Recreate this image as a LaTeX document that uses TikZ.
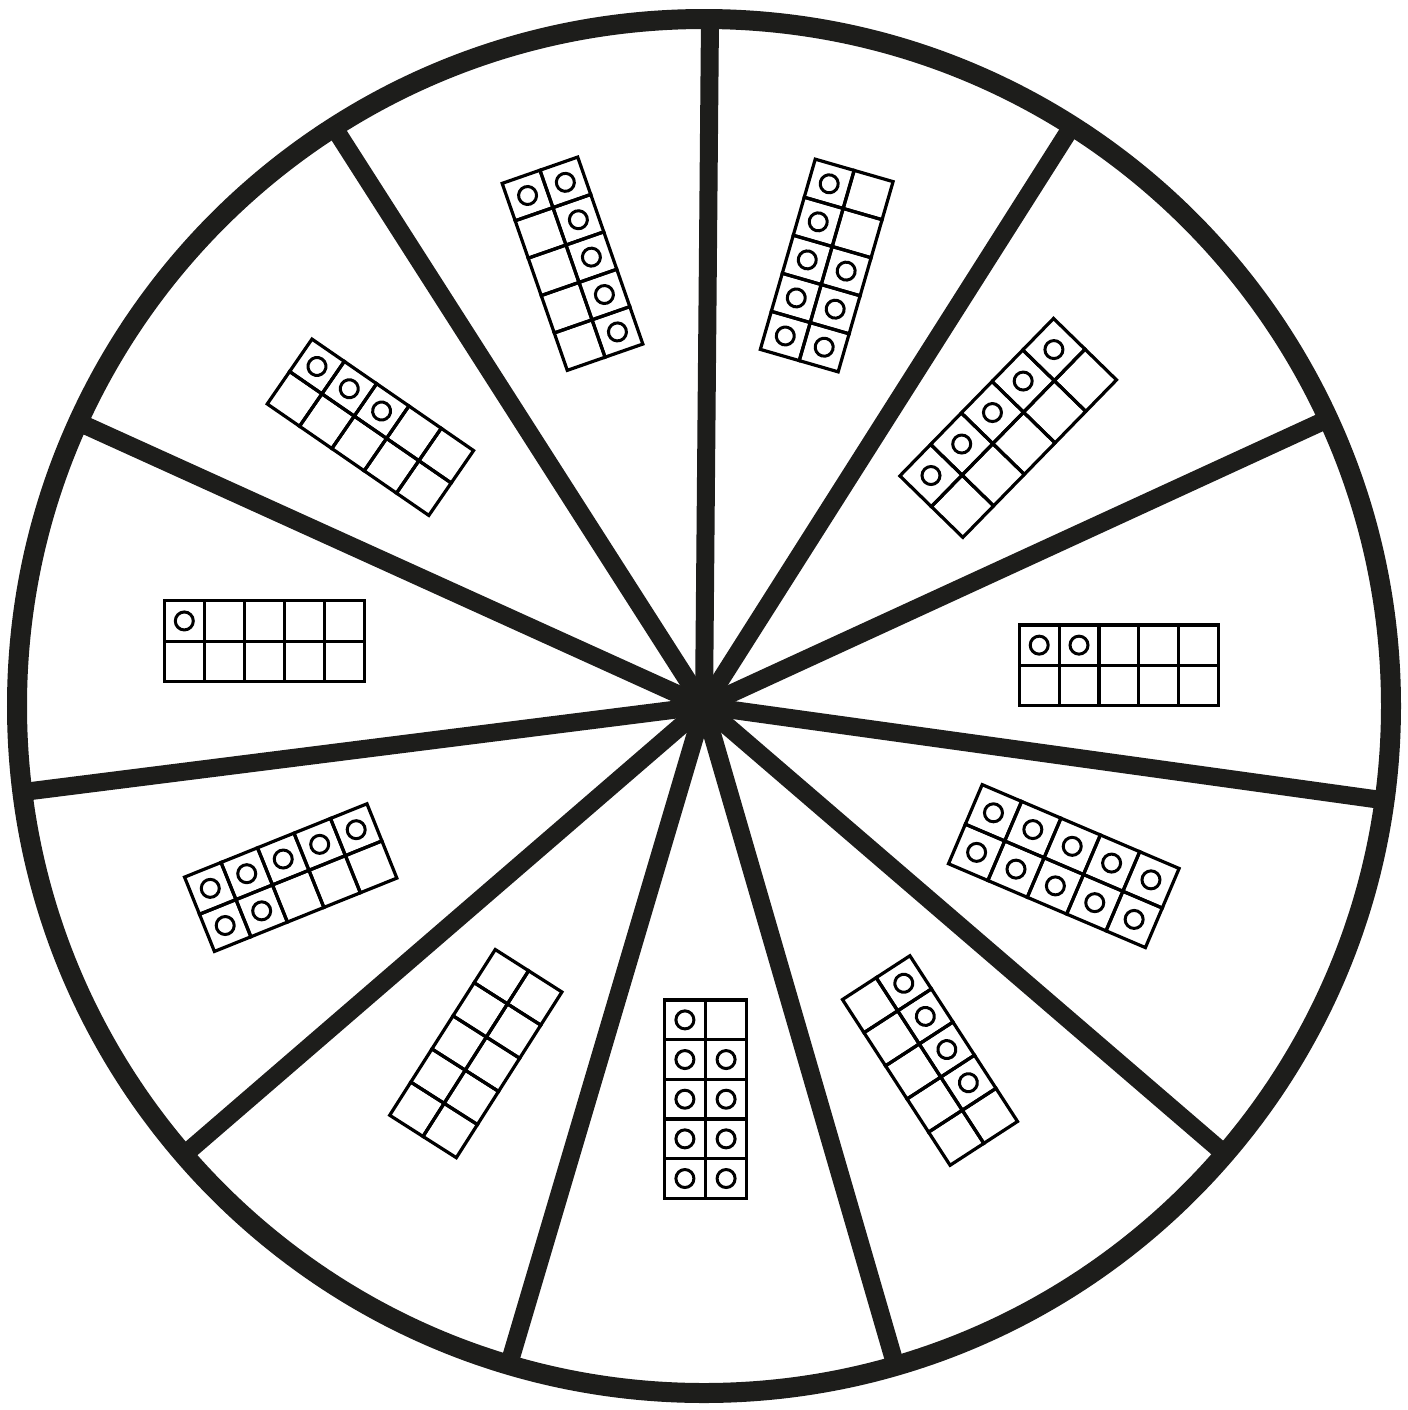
\documentclass[tikz,border=0pt]{standalone}
\definecolor{ink}{HTML}{1D1D1B}
\tikzset{
  ring/.style={draw=ink, line width=10pt},
  spoke/.style={draw=ink, line width=9pt},
  cell/.style={draw=black, line width=1.6pt, line join=miter},
  dot/.style={draw=black, line width=1.5pt},
}
\newcommand{\tenframe}[6]{%
  \begin{scope}[shift={(#1,#2)}, rotate=#3]
    \fill[white] (-#4/2,-#5/2) rectangle (#4/2,#5/2);
    \foreach \j in {0,1}{\foreach \i in {0,...,4}{
      \pgfmathsetmacro\xa{-#4/2+\i*#4/5}
      \pgfmathsetmacro\ya{-#5/2+\j*#5/2}
      \draw[cell] (\xa,\ya) rectangle ++(#4/5,#5/2);
      \pgfmathtruncatemacro\idx{\j*5+\i}
      \ifnum\idx<#6 \draw[dot] (\xa+#4/10,\ya+#5/4) circle[radius=4.5pt];\fi
    }}
  \end{scope}}
\begin{document}
\begin{tikzpicture}[x=0.5pt,y=-0.5pt]
  \useasboundingbox (0,0) rectangle (1408,1410);
  \coordinate (hub) at (704,706);
  \foreach \a in {89.5,57.6,24.7,-7.9,-40.7,-73.8,-106.5,-139.2,187.2,155.6,122.6}{
    \draw[spoke] (hub) -- ++({687*cos(\a)},{-687*sin(\a)});
  }
  \draw[ring] (hub) circle[radius=343.5pt];
  % ten frames: cx, cy, angle, long, short, count
  \tenframe{572.5}{263.7}{-70.8}{198}{80}{6}
  \tenframe{826.7}{265.5}{73.9}{198}{81}{8}
  \tenframe{1008.2}{427.9}{45.7}{220}{88}{5}
  \tenframe{1118.8}{665.3}{0}{199}{80.7}{2}
  \tenframe{1063.8}{866.1}{-23.06}{214}{86}{10}
  \tenframe{930}{1060.5}{-57.0}{197.6}{80.4}{4}
  \tenframe{705.5}{1099.2}{90}{198.3}{82.4}{9}
  \tenframe{475.8}{1053.6}{57.5}{196.5}{79}{0}
  \tenframe{290.7}{877.6}{21.9}{196.6}{80.1}{7}
  \tenframe{264.3}{641.2}{0}{200}{81}{1}
  \tenframe{370.4}{427.25}{-34.6}{196.3}{78.8}{3}
\end{tikzpicture}
\end{document}
